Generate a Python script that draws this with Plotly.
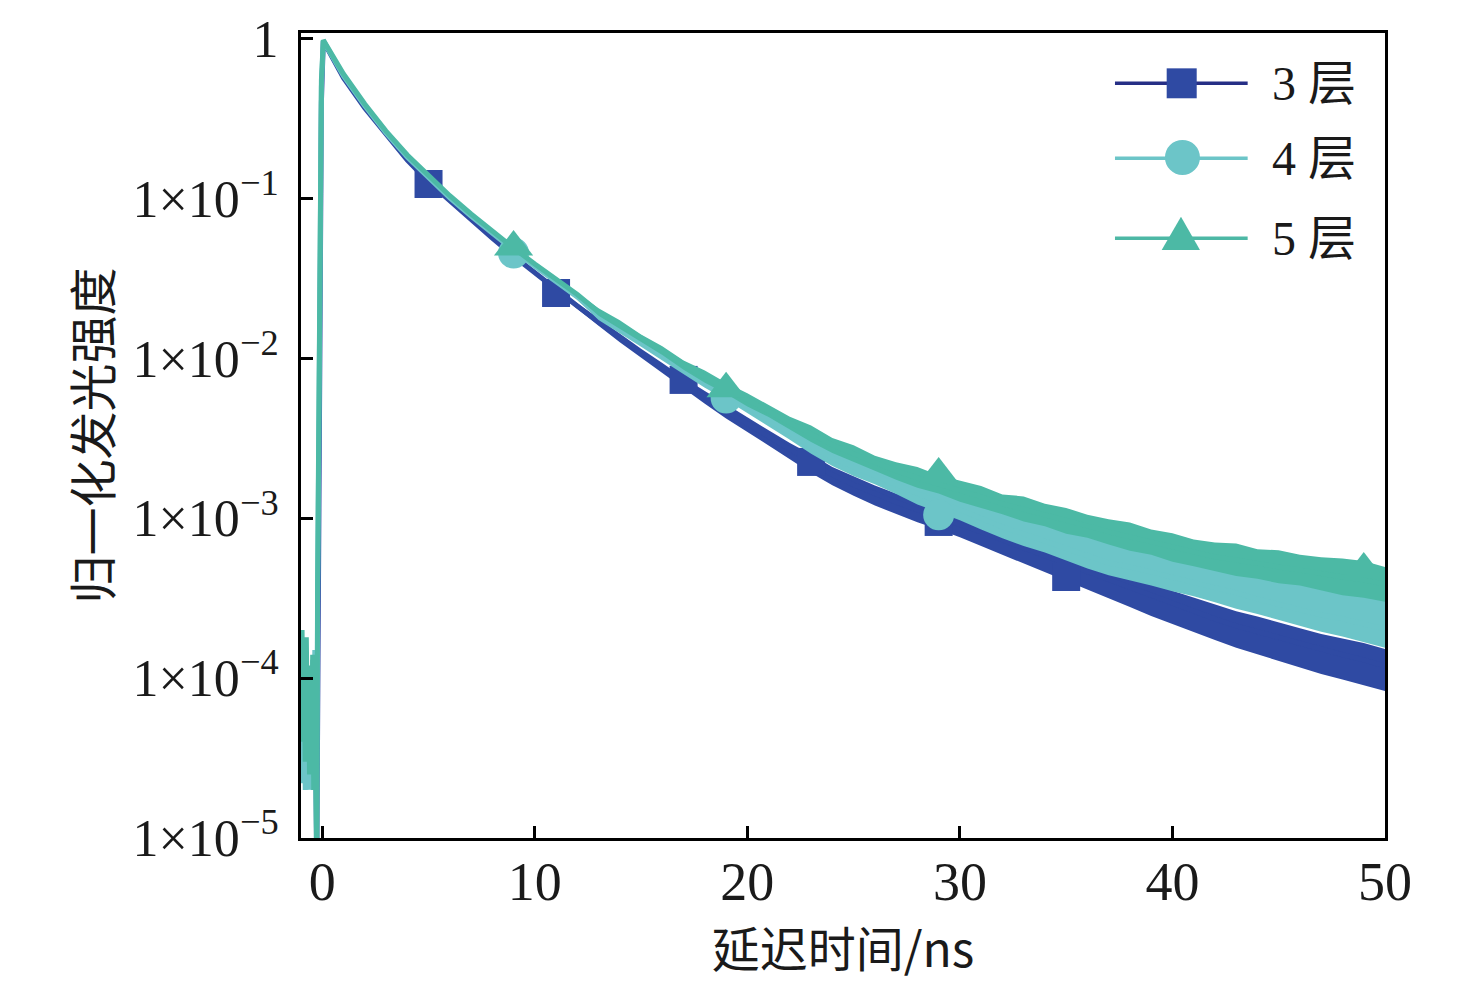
import plotly.graph_objects as go

# ---------------- data ----------------
labels = ["3 层", "4 层", "5 层"]
colors = ["#2f4aa3", "#6cc5c8", "#4cb9a5"]
legend_line_colors = ["#262f86", "#6cc5c8", "#4db8a5"]

# time axis of the traces (ns)
t_pre = [-0.95, -0.90, -0.85, -0.80, -0.75, -0.70, -0.65, -0.60, -0.55, -0.50, -0.45, -0.40,
         -0.35, -0.30, -0.26, -0.22, -0.16, -0.10, -0.04]
t_main = [0.05] + list(range(1, 51))

pre_3 = [5e-5, 3e-5, 6e-5, 3.5e-5, 5e-5, 2.5e-5, 5e-5, 3e-5, 4e-5, 2.5e-5, 5e-5, 3e-5,
         4e-5, 3e-5, 6e-6, 5e-5, 1e-3, 0.03, 0.4]
pre_4 = [6e-5, 2.2e-5, 9e-5, 2e-5, 7e-5, 2.5e-5, 1.1e-4, 2e-5, 8e-5, 4e-5, 1.3e-4, 3e-5,
         1.5e-4, 5e-5, 8e-6, 3e-4, 5e-3, 0.07, 0.5]
pre_5 = [2.0e-4, 4e-5, 1.5e-4, 3e-5, 1.8e-4, 5e-5, 1.2e-4, 2.5e-5, 1.0e-4, 3e-5, 1.4e-4, 2e-5,
         9e-5, 3e-5, 6e-6, 4e-4, 6e-3, 0.08, 0.55]

main_3 = [0.966, 0.567, 0.368, 0.2495, 0.1741, 0.1268, 0.0965, 0.0734, 0.0566, 0.0437,
          0.0342, 0.0268, 0.02127, 0.01689, 0.01341, 0.01081, 0.00871, 0.00702, 0.00574, 0.00469,
          0.00389, 0.00322, 0.00267, 0.00222, 0.00187, 0.00162, 0.00142, 0.00126, 0.00113, 0.00102,
          0.000921, 0.000821, 0.000731, 0.000652, 0.000581, 0.000518, 0.000461, 0.000411, 0.000367, 0.000327,
          0.000291, 0.000259, 0.000235, 0.000212, 0.000195, 0.000178, 0.000164, 0.000150, 0.000140, 0.000130,
          0.000119]
main_4 = [0.97, 0.585, 0.380, 0.257, 0.182, 0.134, 0.101, 0.0776, 0.0602, 0.0475,
          0.0377, 0.0302, 0.0242, 0.01841, 0.01527, 0.01248, 0.01035, 0.00858, 0.00712, 0.00599,
          0.00497, 0.00412, 0.00342, 0.00283, 0.00238, 0.00209, 0.00184, 0.00162, 0.00142, 0.00126,
          0.00113, 0.00100, 0.000882, 0.000798, 0.000721, 0.000652, 0.000581, 0.000525, 0.000496, 0.000461,
          0.000429, 0.000400, 0.000367, 0.000341, 0.000313, 0.000291, 0.000267, 0.000248, 0.000235, 0.000218,
          0.000203]
main_5 = [0.98, 0.600, 0.390, 0.264, 0.187, 0.138, 0.104, 0.0800, 0.0622, 0.0490,
          0.0389, 0.0311, 0.0251, 0.01951, 0.01618, 0.01341, 0.01112, 0.00909, 0.00765, 0.00653,
          0.00549, 0.00469, 0.00394, 0.00337, 0.00287, 0.00253, 0.00222, 0.00198, 0.00179, 0.00164,
          0.00148, 0.00136, 0.00123, 0.00114, 0.00105, 0.000962, 0.000895, 0.000821, 0.000764, 0.000711,
          0.000652, 0.000607, 0.000573, 0.000548, 0.000518, 0.000496, 0.000475, 0.000448, 0.000429, 0.000411,
          0.000388]

# noise band (upper / lower envelope of the noisy tail), t = 10 ... 50 ns
t_band = list(range(10, 51))
upper_3 = [0.0353, 0.0277, 0.0221, 0.0177, 0.0142, 0.0115, 0.00935, 0.00755, 0.00625, 0.00515,
           0.00428, 0.00355, 0.00296, 0.00250, 0.00209, 0.00183, 0.00160, 0.00143, 0.00130, 0.00116,
           0.00106, 0.000940, 0.000845, 0.000760, 0.000675, 0.000610, 0.000545, 0.000490, 0.000440, 0.000395,
           0.000352, 0.000318, 0.000290, 0.000262, 0.000243, 0.000222, 0.000205, 0.000189, 0.000177, 0.000166,
           0.000152]
lower_3 = [0.0331, 0.0259, 0.0204, 0.0160, 0.0126, 0.0101, 0.00805, 0.00645, 0.00520, 0.00420,
           0.00348, 0.00285, 0.00234, 0.00192, 0.00161, 0.00138, 0.00120, 0.00106, 0.000945, 0.000850,
           0.000760, 0.000670, 0.000590, 0.000520, 0.000458, 0.000405, 0.000358, 0.000312, 0.000278, 0.000245,
           0.000218, 0.000193, 0.000173, 0.000155, 0.000141, 0.000128, 0.000116, 0.000106, 0.0000980, 0.0000905,
           0.0000830]
upper_4 = [0.0389, 0.0312, 0.0251, 0.0196, 0.0162, 0.0133, 0.0111, 0.00925, 0.00775, 0.00650,
           0.00545, 0.00452, 0.00378, 0.00318, 0.00266, 0.00232, 0.00206, 0.00183, 0.00164, 0.00150,
           0.00134, 0.00122, 0.00111, 0.00101, 0.000935, 0.000845, 0.000790, 0.000725, 0.000665, 0.000620,
           0.000565, 0.000530, 0.000492, 0.000462, 0.000440, 0.000415, 0.000400, 0.000375, 0.000350, 0.000335,
           0.000318]
lower_4 = [0.0366, 0.0292, 0.0233, 0.0174, 0.0144, 0.0118, 0.0097, 0.00800, 0.00655, 0.00550,
           0.00455, 0.00375, 0.00310, 0.00253, 0.00212, 0.00184, 0.00163, 0.00142, 0.00122, 0.00109,
           0.000970, 0.000850, 0.000750, 0.000670, 0.000610, 0.000545, 0.000485, 0.000440, 0.000410, 0.000380,
           0.000350, 0.000325, 0.000298, 0.000272, 0.000252, 0.000232, 0.000212, 0.000195, 0.000182, 0.000168,
           0.000155]
upper_5 = [0.0401, 0.0321, 0.0260, 0.0206, 0.0173, 0.0141, 0.0119, 0.00970, 0.00840, 0.00705,
           0.00605, 0.00510, 0.00432, 0.00380, 0.00318, 0.00286, 0.00246, 0.00224, 0.00209, 0.00186,
           0.00172, 0.00159, 0.00141, 0.00137, 0.00123, 0.00116, 0.00105, 0.000985, 0.000940, 0.000850,
           0.000805, 0.000735, 0.000705, 0.000695, 0.000640, 0.000630, 0.000590, 0.000570, 0.000560, 0.000540,
           0.000495]
lower_5 = [0.0378, 0.0301, 0.0243, 0.0185, 0.0153, 0.0126, 0.0105, 0.00850, 0.00705, 0.00600,
           0.00500, 0.00430, 0.00358, 0.00300, 0.00256, 0.00224, 0.00198, 0.00174, 0.00155, 0.00143,
           0.00127, 0.00116, 0.00106, 0.000955, 0.000890, 0.000800, 0.000755, 0.000685, 0.000625, 0.000590,
           0.000535, 0.000500, 0.000465, 0.000435, 0.000418, 0.000392, 0.000380, 0.000355, 0.000330, 0.000318,
           0.000300]

# marker points
mark_t_3 = [5, 11, 17, 23, 29, 35]
mark_v_3 = [0.1232, 0.02564, 0.00733, 0.00225, 0.000948, 0.000429]
mark_t_4 = [9, 19, 29]
mark_v_4 = [0.0456, 0.00565, 0.00105]
mark_t_5 = [9, 19, 29, 49]
mark_v_5 = [0.0497, 0.00645, 0.00189, 0.000482]

x_ticks = [0, 10, 20, 30, 40, 50]
y_tickvals = [1, 1e-1, 1e-2, 1e-3, 1e-4, 1e-5]
y_ticktext = ["1", "1×10<sup>−1</sup>", "1×10<sup>−2</sup>", "1×10<sup>−3</sup>",
              "1×10<sup>−4</sup>", "1×10<sup>−5</sup>"]

# ---------------- figure ----------------
series = [
    (pre_3, main_3, upper_3, lower_3, mark_t_3, mark_v_3, "square", 28),
    (pre_4, main_4, upper_4, lower_4, mark_t_4, mark_v_4, "circle", 31),
    (pre_5, main_5, upper_5, lower_5, mark_t_5, mark_v_5, "triangle-up", 34),
]

fig = go.Figure()
for i, (pre, main, up, lo, mt, mv, sym, msz) in enumerate(series):
    c = colors[i]
    fig.add_trace(go.Scatter(x=t_band, y=lo, mode="lines", line=dict(width=0, color=c),
                             showlegend=False, hoverinfo="skip"))
    fig.add_trace(go.Scatter(x=t_band, y=up, mode="lines", line=dict(width=0, color=c),
                             fill="tonexty", fillcolor=c, showlegend=False, hoverinfo="skip"))
    fig.add_trace(go.Scatter(x=t_pre + t_main, y=pre + main, mode="lines",
                             line=dict(width=5, color=c), name=labels[i], showlegend=False))
    fig.add_trace(go.Scatter(x=mt, y=mv, mode="markers",
                             marker=dict(symbol=sym, size=msz, color=c, line=dict(width=0)),
                             showlegend=False, hoverinfo="skip"))

serif = "Liberation Serif, Times New Roman, Noto Sans CJK SC, serif"
cjk = "Noto Sans CJK SC, Liberation Serif, sans-serif"

# the page adds an 8 px body margin, so the figure is sized to fit the window
fig.update_layout(
    width=1460, height=973,
    margin=dict(l=293, r=83, t=25, b=143, autoexpand=False),
    paper_bgcolor="white", plot_bgcolor="white",
    font=dict(family=serif, color="#1a1a1a", size=52),
    xaxis=dict(range=[-1, 50], tickvals=x_ticks, ticks="inside", ticklen=12, tickwidth=3,
               tickcolor="black", showline=True, linecolor="black", linewidth=3, mirror=True,
               showgrid=False, zeroline=False, ticklabelstandoff=-6, automargin=False,
               tickfont=dict(family=serif, size=54, color="#1a1a1a"),
               title=dict(text="延迟时间/ns", font=dict(family=cjk, size=48, color="#1a1a1a"),
                          standoff=8)),
    yaxis=dict(type="log", range=[-5, 0.035], tickvals=y_tickvals, ticktext=y_ticktext,
               ticks="inside", ticklen=12, tickwidth=3, tickcolor="black",
               showline=True, linecolor="black", linewidth=3, mirror=True,
               showgrid=False, zeroline=False, ticklabelstandoff=9, automargin=False,
               tickfont=dict(family=serif, size=52, color="#1a1a1a"),
               title=dict(text="归一化发光强度", font=dict(family=cjk, size=48, color="#1a1a1a"),
                          standoff=6)),
    showlegend=False,
)

# hand-built legend (long sample lines, large symbols as in the reference)
leg_y = [0.9375, 0.8443, 0.7450]
shapes = []
annotations = []
for i in range(3):
    shapes.append(dict(type="line", xref="paper", yref="paper", x0=0.7509, x1=0.8733,
                       y0=leg_y[i], y1=leg_y[i], line=dict(color=legend_line_colors[i], width=3.5)))
    annotations.append(dict(xref="paper", yref="paper", x=0.8939, y=leg_y[i], xanchor="left",
                            yanchor="middle", text=labels[i], showarrow=False,
                            font=dict(family=serif, size=48, color="#1a1a1a")))
shapes.append(dict(type="rect", xref="paper", yref="paper", x0=0.7986, x1=0.8263,
                   y0=0.9189, y1=0.9561, fillcolor=colors[0], line=dict(width=0)))
shapes.append(dict(type="circle", xref="paper", yref="paper", x0=0.7970, x1=0.8293,
                   y0=0.8236, y1=0.8671, fillcolor=colors[1], line=dict(width=0)))
shapes.append(dict(type="path", xref="paper", yref="paper",
                   path="M 0.7940 0.7304 L 0.8293 0.7304 L 0.8118 0.7718 Z",
                   fillcolor=colors[2], line=dict(width=0)))
fig.update_layout(shapes=shapes, annotations=annotations)

fig.write_html("out.html")
